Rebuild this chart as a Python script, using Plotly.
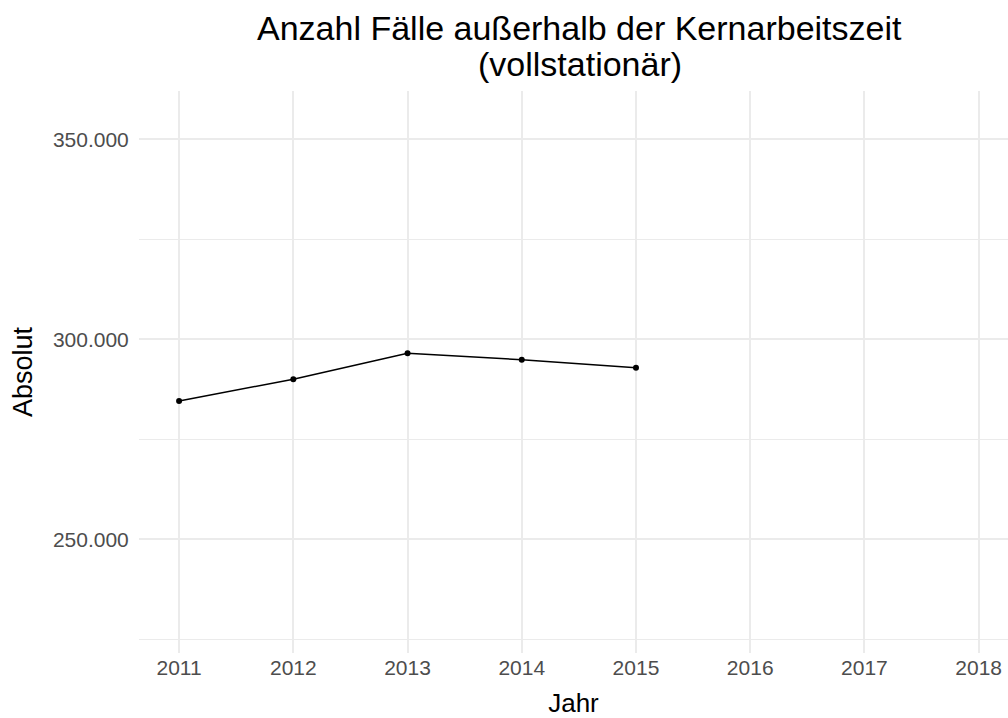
import plotly.graph_objects as go

years = [2011, 2012, 2013, 2014, 2015]
faelle = [284600, 290000, 296500, 294900, 292900]

x_ticks = [2011, 2012, 2013, 2014, 2015, 2016, 2017, 2018]
y_ticks = [250000, 300000, 350000]
y_tick_labels = ["250.000", "300.000", "350.000"]
y_minor = [225000, 275000, 325000]

title_line1 = "Anzahl Fälle außerhalb der Kernarbeitszeit"
title_line2 = "(vollstationär)"

FONT = "Liberation Sans, Arial, sans-serif"
GRID = "#ebebeb"

fig = go.Figure()
fig.add_trace(go.Scatter(
    x=years, y=faelle, mode="lines+markers",
    line=dict(color="black", width=1.5),
    marker=dict(color="black", size=6),
    showlegend=False,
))

fig.update_layout(
    width=1008, height=718,
    margin=dict(l=139, r=0, t=91, b=65, autoexpand=False),
    paper_bgcolor="white", plot_bgcolor="white",
    font=dict(family=FONT, color="black"),
    showlegend=False,
    annotations=[
        dict(text=title_line1, xref="paper", yref="paper", x=0.5073, y=1,
             xanchor="center", yanchor="bottom", yshift=42, showarrow=False,
             font=dict(size=34, color="black", family=FONT)),
        dict(text=title_line2, xref="paper", yref="paper", x=0.5073, y=1,
             xanchor="center", yanchor="bottom", yshift=6, showarrow=False,
             font=dict(size=34, color="black", family=FONT)),
    ],
)

fig.update_xaxes(
    range=[2010.649, 2018.257],
    tickvals=x_ticks,
    ticktext=[str(v) for v in x_ticks],
    showgrid=True, gridcolor=GRID, gridwidth=1.5,
    zeroline=False, showline=False,
    ticks="",
    tickfont=dict(size=21, color="#4d4d4d", family=FONT),
    title=dict(text="Jahr", font=dict(size=26, color="black", family=FONT), standoff=18),
)
fig.update_yaxes(
    range=[221575, 362075],
    tickvals=y_ticks,
    ticktext=y_tick_labels,
    showgrid=True, gridcolor=GRID, gridwidth=1.5,
    minor=dict(tickvals=y_minor, showgrid=True, gridcolor=GRID, gridwidth=1),
    zeroline=False, showline=False,
    ticks="outside", ticklen=5, tickcolor="rgba(0,0,0,0)",
    tickfont=dict(size=21, color="#4d4d4d", family=FONT),
    title=dict(text="Absolut", font=dict(size=27, color="black", family=FONT), standoff=12),
)

fig.write_html(
    "out.html",
    config={"displayModeBar": False},
    post_script="document.body.style.margin='0';document.body.style.padding='0';",
)
